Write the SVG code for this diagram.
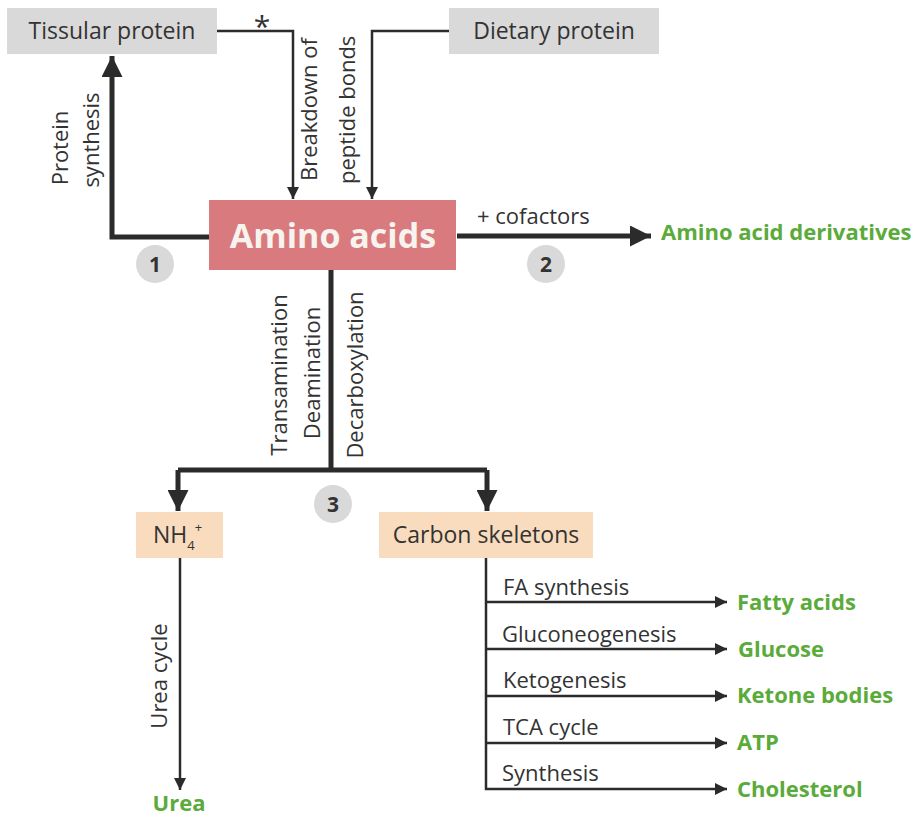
<svg xmlns="http://www.w3.org/2000/svg" width="919" height="817" viewBox="0 0 919 817">
<defs>
<style>
text{font-family:"Open Sans","Liberation Sans",Arial,sans-serif;fill:#333}
.lbl{font-size:22px}
.box{font-size:23px}
.grn{font-size:22px;font-weight:bold;fill:#5aab3a}
.thick{stroke:#2b2b2b;stroke-width:5;fill:none}
.thin{stroke:#2b2b2b;stroke-width:2.5;fill:none}
.circ{fill:#d9d9d9}
.num{font-size:21px;font-weight:bold;text-anchor:middle;fill:#333}
</style>
<marker id="ab" viewBox="0 0 10 10" refX="10" refY="5" markerWidth="4.2" markerHeight="4.2" markerUnits="strokeWidth" orient="auto"><path d="M0,0L10,5L0,10z" fill="#2b2b2b"/></marker>
<marker id="as" viewBox="0 0 10 10" refX="10" refY="5" markerWidth="5" markerHeight="5" markerUnits="strokeWidth" orient="auto"><path d="M0,0L10,5L0,10z" fill="#2b2b2b"/></marker>
</defs>
<rect width="919" height="817" fill="#fff"/>
<g id="connectors">
<path class="thick" d="M209,237H112V56" marker-end="url(#ab)"/>
<path class="thin" d="M217,31H293V199" marker-end="url(#as)"/>
<path class="thin" d="M449,31H372V199" marker-end="url(#as)"/>
<path class="thick" d="M457,236H651" marker-end="url(#ab)"/>
<path class="thick" d="M331,270V470"/>
<path class="thick" d="M178,470H487"/>
<path class="thick" d="M178,470V511" marker-end="url(#ab)"/>
<path class="thick" d="M487,470V511" marker-end="url(#ab)"/>
<path class="thin" d="M180,558V790" marker-end="url(#as)"/>
<path class="thin" d="M486,558V789H727"  marker-end="url(#as)"/>
<path class="thin" d="M486,602H727" marker-end="url(#as)"/>
<path class="thin" d="M486,649H727" marker-end="url(#as)"/>
<path class="thin" d="M486,696H727" marker-end="url(#as)"/>
<path class="thin" d="M486,743H727" marker-end="url(#as)"/>
<text x="262" y="37" style="font-size:30px" text-anchor="middle">*</text>
<text class="lbl" transform="translate(317,181) rotate(-90)">Breakdown of</text>
<text class="lbl" transform="translate(355,184) rotate(-90)">peptide bonds</text>
<text class="lbl" transform="translate(68,148) rotate(-90)" text-anchor="middle">Protein</text>
<text class="lbl" transform="translate(99,140) rotate(-90)" text-anchor="middle">synthesis</text>
<text class="lbl" x="477" y="224">+ cofactors</text>
<text class="lbl" transform="translate(287,375) rotate(-90)" text-anchor="middle">Transamination</text>
<text class="lbl" transform="translate(320,373) rotate(-90)" text-anchor="middle">Deamination</text>
<text class="lbl" transform="translate(363,375) rotate(-90)" text-anchor="middle">Decarboxylation</text>
<text class="lbl" transform="translate(167,676) rotate(-90)" text-anchor="middle">Urea cycle</text>
<text class="lbl" x="503" y="595">FA synthesis</text>
<text class="lbl" x="502" y="642">Gluconeogenesis</text>
<text class="lbl" x="503" y="688">Ketogenesis</text>
<text class="lbl" x="503" y="735">TCA cycle</text>
<text class="lbl" x="502" y="781">Synthesis</text>
</g>
<g id="n-tissular"><rect x="7" y="8" width="210" height="46" fill="#d9d9d9"/><text class="box" x="112" y="39" text-anchor="middle">Tissular protein</text></g>
<g id="n-dietary"><rect x="449" y="8" width="210" height="46" fill="#d9d9d9"/><text class="box" x="554" y="39" text-anchor="middle">Dietary protein</text></g>
<g id="n-amino"><rect x="209" y="200" width="247" height="70" fill="#d97b7e"/><text x="333" y="248" text-anchor="middle" style="font-size:34px;font-weight:bold;fill:#f7f3ee">Amino acids</text></g>
<g id="c1"><circle class="circ" cx="155" cy="264" r="19"/><text class="num" x="155" y="272">1</text></g>
<g id="c2"><circle class="circ" cx="546" cy="264" r="19"/><text class="num" x="546" y="272">2</text></g>
<g id="c3"><circle class="circ" cx="333" cy="504" r="19"/><text class="num" x="333" y="512">3</text></g>
<g id="n-derivatives"><text class="grn" x="661" y="240">Amino acid derivatives</text></g>
<g id="n-nh4"><rect x="136" y="512" width="87" height="46" fill="#f9dcbd"/><text class="box" x="153" y="543">NH<tspan dy="7" style="font-size:13px">4</tspan><tspan dy="-18" style="font-size:13px">+</tspan></text></g>
<g id="n-carbon"><rect x="379" y="512" width="214" height="46" fill="#f9dcbd"/><text class="box" x="486" y="543" text-anchor="middle">Carbon skeletons</text></g>
<g id="n-urea"><text class="grn" x="179" y="811" text-anchor="middle">Urea</text></g>
<g id="n-fatty"><text class="grn" x="737" y="610">Fatty acids</text></g>
<g id="n-glucose"><text class="grn" x="738" y="657">Glucose</text></g>
<g id="n-ketone"><text class="grn" x="737" y="703">Ketone bodies</text></g>
<g id="n-atp"><text class="grn" x="737" y="750">ATP</text></g>
<g id="n-chol"><text class="grn" x="737" y="797">Cholesterol</text></g>
</svg>
